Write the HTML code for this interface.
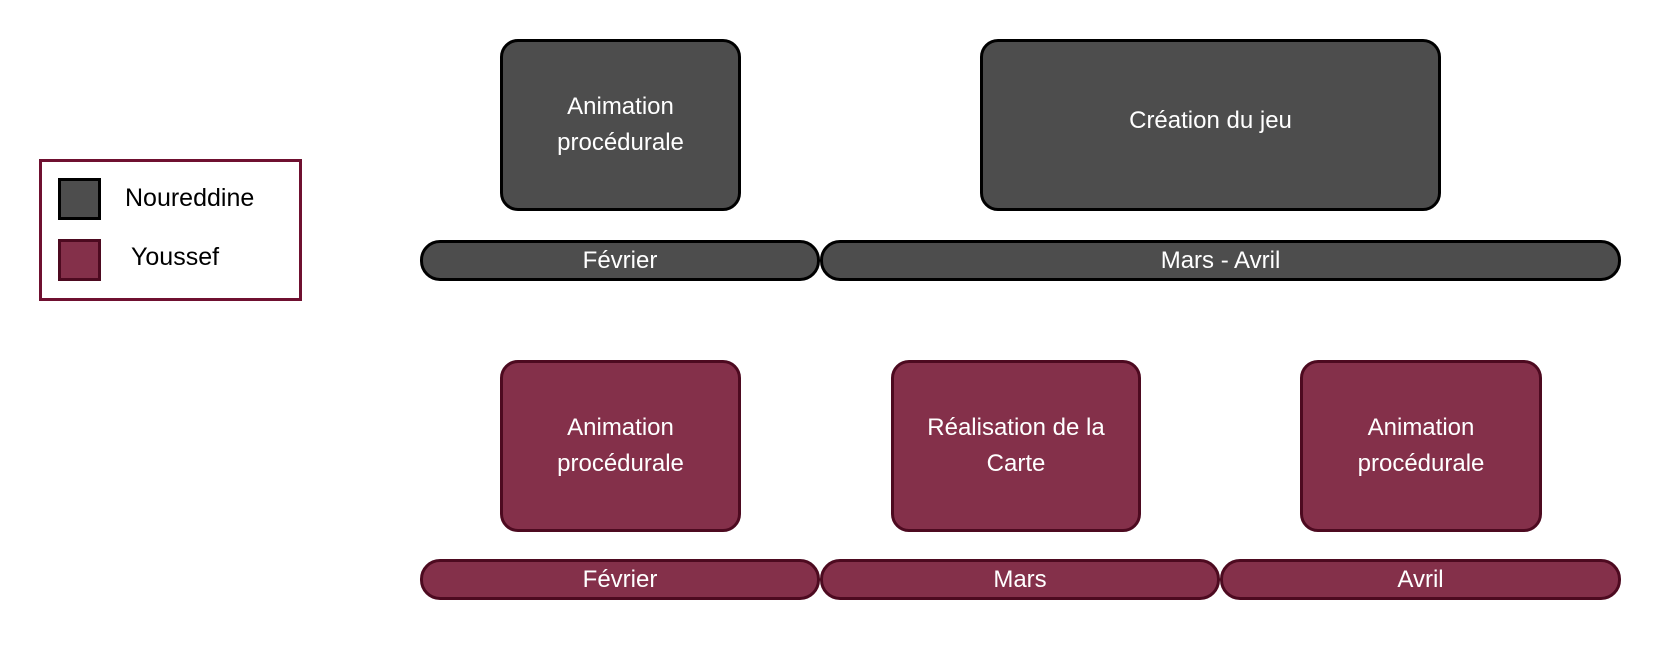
<!DOCTYPE html>
<html><head><meta charset="utf-8"><style>
body{margin:0;width:1660px;height:661px;background:#fff;position:relative;overflow:hidden;font-family:"Liberation Sans",sans-serif;}
.a{position:absolute;box-sizing:border-box;display:flex;align-items:center;justify-content:center;text-align:center;color:#fff;font-size:24px;line-height:36px;}
.g{background:#4d4d4d;border:3px solid #000;}
.m{background:#84304a;border:3px solid #4d0a20;}
.box{border-radius:18px;}
.bar{border-radius:20px;}
.t{position:absolute;font-size:25px;color:#000;}
</style></head><body>
<div class="a" style="left:39px;top:159px;width:263px;height:142px;border:3px solid #6f1030;"></div>
<div class="a g" style="left:58px;top:178px;width:43px;height:42px;"></div>
<div class="a m" style="left:58px;top:239px;width:43px;height:42px;"></div>
<div class="t" style="left:125px;top:184px;">Noureddine</div>
<div class="t" style="left:131px;top:243px;">Youssef</div>

<div class="a g box" style="left:500px;top:39px;width:241px;height:172px;">Animation<br>procédurale</div>
<div class="a g box" style="left:980px;top:39px;width:461px;height:172px;padding-bottom:8px;">Création du jeu</div>
<div class="a g bar" style="left:420px;top:240px;width:400px;height:41px;">Février</div>
<div class="a g bar" style="left:820px;top:240px;width:801px;height:41px;">Mars - Avril</div>

<div class="a m box" style="left:500px;top:360px;width:241px;height:172px;">Animation<br>procédurale</div>
<div class="a m box" style="left:891px;top:360px;width:250px;height:172px;">Réalisation de la<br>Carte</div>
<div class="a m box" style="left:1300px;top:360px;width:242px;height:172px;">Animation<br>procédurale</div>
<div class="a m bar" style="left:420px;top:559px;width:400px;height:41px;">Février</div>
<div class="a m bar" style="left:820px;top:559px;width:400px;height:41px;">Mars</div>
<div class="a m bar" style="left:1220px;top:559px;width:401px;height:41px;">Avril</div>
</body></html>
